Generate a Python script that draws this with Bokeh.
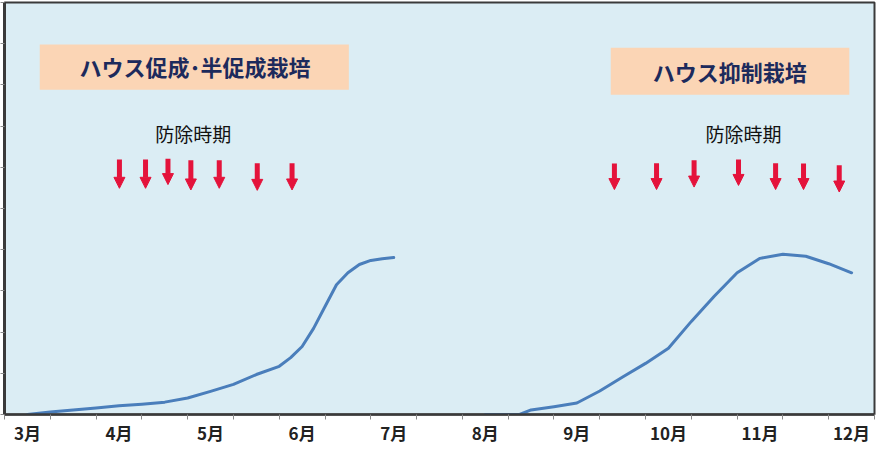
from bokeh.plotting import figure
from bokeh.models import (FixedTicker, Range1d, BoxAnnotation, Label, Arrow,
                          NormalHead, ColumnDataSource)
from bokeh.embed import file_html
from bokeh.resources import INLINE

# ---- data ----
month_labels = ["3月", "4月", "5月", "6月", "7月", "8月", "9月", "10月", "11月", "12月"]
month_pos = [0, 2, 4, 6, 8, 10, 12, 14, 16, 18]   # category index of each label
half_month_edges = [i - 0.5 for i in range(20)]     # category boundaries (tick marks)

# ハウス促成・半促成栽培 (pest density curve)
x_forcing = [0, 0.5, 1, 1.5, 2, 2.5, 3, 3.5, 4, 4.5, 5, 5.5, 5.75, 6, 6.25, 6.5, 6.75,
             7, 7.25, 7.5, 7.75, 8]
y_forcing = [0, 0.06, 0.11, 0.16, 0.21, 0.25, 0.30, 0.40, 0.56, 0.73, 0.97, 1.17, 1.38,
             1.65, 2.09, 2.62, 3.15, 3.44, 3.64, 3.74, 3.78, 3.81]

# ハウス抑制栽培
x_retard = [10, 10.5, 10.75, 11, 11.5, 12, 12.5, 13, 13.5, 14, 14.5, 15, 15.5, 16,
            16.5, 17, 17.5, 18]
y_retard = [0, 0, 0, 0.11, 0.19, 0.28, 0.57, 0.91, 1.24, 1.61, 2.26, 2.87, 3.44, 3.79,
            3.89, 3.84, 3.66, 3.44]

# 防除時期 (control timings), arrows
spray_x_forcing = [2.01, 2.58, 3.07, 3.57, 4.19, 5.02, 5.78]
spray_top_forcing = [6.19, 6.19, 6.21, 6.17, 6.17, 6.10, 6.10]
spray_tip_forcing = [5.49, 5.49, 5.58, 5.45, 5.49, 5.44, 5.45]

spray_x_retard = [12.82, 13.74, 14.56, 15.53, 16.34, 16.95, 17.73]
spray_top_retard = [6.09, 6.10, 6.17, 6.19, 6.10, 6.09, 6.05]
spray_tip_retard = [5.46, 5.46, 5.52, 5.56, 5.46, 5.46, 5.40]

title_forcing = "ハウス促成･半促成栽培"
title_retard = "ハウス抑制栽培"
spray_label = "防除時期"

# ---- styles ----
BG = "#dbedf4"
PEACH = "#fbd5b5"
LINE = "#4a7ebb"
RED = "#e4133b"
NAVY = "#1c2a5c"
JP = "Noto Sans CJK JP"

p = figure(width=876, height=447, x_range=Range1d(-0.5, 18.5), y_range=Range1d(0, 10),
           output_backend="svg", toolbar_location=None,
           min_border_left=0, min_border_right=2, min_border_top=2, min_border_bottom=30)
p.background_fill_color = BG
p.border_fill_color = "white"
p.outline_line_color = "#3a3a3a"
p.outline_line_width = 2
p.xgrid.visible = False
p.ygrid.visible = False

xa = p.xaxis[0]
xa.ticker = FixedTicker(ticks=month_pos, minor_ticks=half_month_edges)
xa.major_label_overrides = {m: lab for m, lab in zip(month_pos, month_labels)}
xa.major_tick_line_color = None
xa.major_tick_out = 0
xa.major_tick_in = 0
xa.minor_tick_out = 5
xa.minor_tick_in = 0
xa.minor_tick_line_color = "#8a8a8a"
xa.axis_line_color = "#3a3a3a"
xa.axis_line_width = 2.5
xa.major_label_text_font = JP
xa.major_label_text_font_size = "17px"
xa.major_label_text_font_style = "bold"
xa.major_label_text_color = "#222222"
xa.major_label_standoff = 0

ya = p.yaxis[0]
ya.ticker = FixedTicker(ticks=list(range(0, 11)), minor_ticks=[])
ya.major_label_overrides = {i: "" for i in range(0, 11)}
ya.major_label_standoff = 0
ya.major_label_text_font_size = "1px"
ya.major_tick_out = 4
ya.major_tick_in = 0
ya.major_tick_line_color = "#8a8a8a"
ya.axis_line_color = "#3a3a3a"
ya.axis_line_width = 3

# label boxes
p.add_layout(BoxAnnotation(left=0.27, right=7.02, bottom=7.88, top=8.98,
                           fill_color=PEACH, fill_alpha=1, line_color=None, level="underlay"))
p.add_layout(BoxAnnotation(left=12.74, right=17.95, bottom=7.76, top=8.90,
                           fill_color=PEACH, fill_alpha=1, line_color=None, level="underlay"))

p.add_layout(Label(x=3.66, y=8.45, text=title_forcing, text_align="center",
                   text_baseline="middle", text_font=JP, text_font_size="22px",
                   text_font_style="bold", text_color=NAVY))
p.add_layout(Label(x=15.34, y=8.33, text=title_retard, text_align="center",
                   text_baseline="middle", text_font=JP, text_font_size="22px",
                   text_font_style="bold", text_color=NAVY))
p.add_layout(Label(x=3.62, y=6.82, text=spray_label, text_align="center",
                   text_baseline="middle", text_font=JP, text_font_size="19px",
                   text_color="#111111"))
p.add_layout(Label(x=15.64, y=6.82, text=spray_label, text_align="center",
                   text_baseline="middle", text_font=JP, text_font_size="19px",
                   text_color="#111111"))

# curves
p.line(x_forcing, y_forcing, line_color=LINE, line_width=3, line_join="round", line_cap="round")
p.line(x_retard, y_retard, line_color=LINE, line_width=3, line_join="round", line_cap="round")

# arrows
for xs, tops, tips in [(spray_x_forcing, spray_top_forcing, spray_tip_forcing),
                       (spray_x_retard, spray_top_retard, spray_tip_retard)]:
    src = ColumnDataSource(dict(x=xs, y0=tops, y1=tips))
    p.add_layout(Arrow(end=NormalHead(size=11, fill_color=RED, line_color=RED, line_width=1),
                       x_start="x", y_start="y0", x_end="x", y_end="y1", source=src,
                       line_color=RED, line_width=5))

open("out.html", "w").write(file_html(p, INLINE))
